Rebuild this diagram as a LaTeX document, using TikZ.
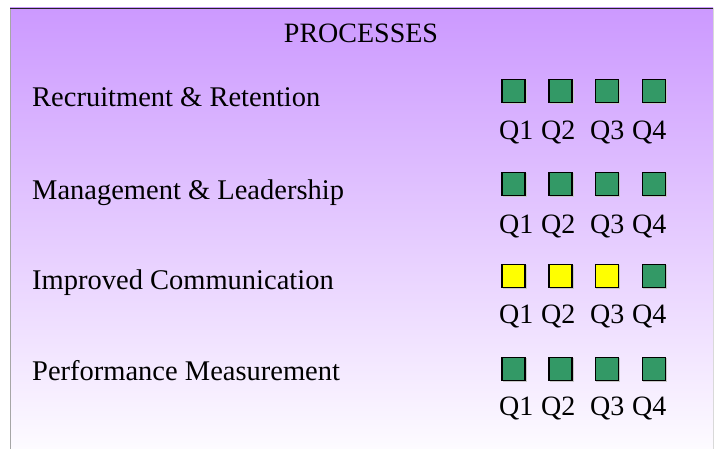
\documentclass[tikz,border=0pt]{standalone}
\usepackage{fontspec}
\setmainfont{Liberation Serif}
\definecolor{topP}{RGB}{204,153,255}
\definecolor{botP}{RGB}{253,251,255}
\definecolor{qgreen}{RGB}{51,153,102}
\definecolor{qyellow}{RGB}{255,255,0}
\tikzset{
  lbl/.style={anchor=base west,inner sep=0pt,font=\fontsize{28.5}{34}\selectfont},
  qlbl/.style={anchor=base west,inner sep=0pt,font=\fontsize{28}{34}\selectfont},
  sq/.style={draw=black,line width=1.6pt,minimum size=23pt,inner sep=0pt},
  gsq/.style={sq,fill=qgreen},
  ysq/.style={sq,fill=qyellow},
}
\begin{document}
\begin{tikzpicture}[x=1pt,y=-1pt]
\useasboundingbox (0,0) rectangle (719,449);
\fill[white] (0,0) rectangle (719,449);
\shade[top color=topP,bottom color=botP] (10,8) rectangle (713,449);
\draw[gray!70,line width=1pt] (10.5,8) -- (10.5,449);
\draw[gray!30,line width=0.8pt] (713,8) -- (713,449);
\draw[black!85,line width=1.5pt] (10,8.5) -- (713,8.5);
\node[anchor=base,inner sep=0pt,font=\fontsize{28}{34}\selectfont] (title) at (361,43) {PROCESSES};
% row labels
\node[lbl] (r1) at (32,107) {Recruitment \& Retention};
\node[lbl] (r2) at (32,199) {Management \& Leadership};
\node[lbl] (r3) at (32,289) {Improved Communication};
\node[lbl] (r4) at (32,380) {Performance Measurement};
% shadows and quarter labels
\foreach \row/\sy/\qy in {1/91/140,2/184/233,3/276/323,4/369/415}{
  \foreach \sx in {513.5,560.5,607,654}{
    \fill[black!22] (\sx-11,\sy-11) rectangle (\sx+13,\sy+13);
  }
  \foreach \qx [count=\k] in {499,541,590,632}{
    \node[qlbl] (q\row-\k) at (\qx,\qy) {Q\k};
  }
}
\foreach \row/\sy in {1/91,2/184,4/369}{
  \foreach \sx [count=\i] in {513.5,560.5,607,654}{
    \node[gsq] (s\row-\i) at (\sx,\sy) {};
  }
}
\foreach \sx [count=\i] in {513.5,560.5,607}{
  \node[ysq] (s3-\i) at (\sx,276) {};
}
\node[gsq] (s3-4) at (654,276) {};
\end{tikzpicture}
\end{document}
